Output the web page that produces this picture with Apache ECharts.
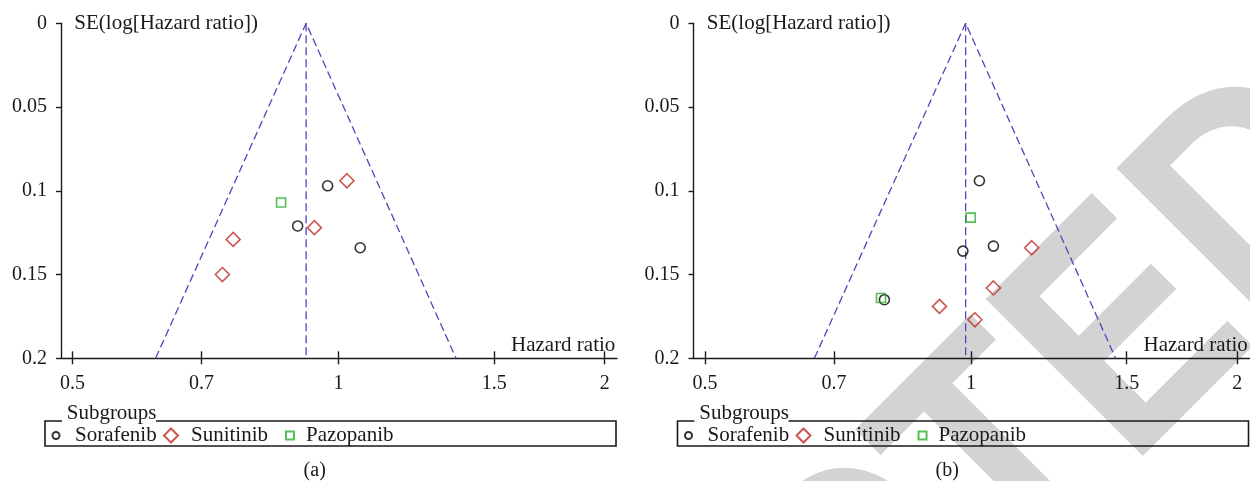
<!DOCTYPE html>
<html>
<head>
<meta charset="utf-8">
<title>Funnel plots</title>
<script src="https://cdn.jsdelivr.net/npm/echarts@6.0.0/dist/echarts.min.js"></script>
<style>
  html, body { margin: 0; padding: 0; background: #fff; }
  #chart { width: 1250px; height: 481px; }
</style>
</head>
<body>
<div id="chart"></div>
<script>
// hazard ratio / SE(log HR) pairs
const hrTicks = [0.5, 0.7, 1, 1.5, 2];
const hrMin = 0.4854;
const hrMax = 2.065;
const seMin = 0;
const seMax = 0.2;
const seStep = 0.05;

const sorafenibA = [[0.899, 0.121], [0.972, 0.097], [1.058, 0.134]];
const sunitinibA = [[0.939, 0.122], [1.022, 0.094], [0.760, 0.129], [0.739, 0.150]];
const pazopanibA = [[0.861, 0.107]];
const funnelA = [[0.621, 0.2], [0.919, 0], [1.358, 0.2]];
const pooledA = [[0.919, 0], [0.919, 0.2]];

const sorafenibB = [[1.022, 0.094], [0.979, 0.136], [1.060, 0.133], [0.798, 0.165]];
const sunitinibB = [[1.171, 0.134], [1.060, 0.158], [0.921, 0.169], [1.010, 0.177]];
const pazopanibB = [[0.999, 0.116], [0.791, 0.164]];
const funnelB = [[0.665, 0.2], [0.986, 0], [1.457, 0.2]];
const pooledB = [[0.986, 0], [0.986, 0.2]];

const groups = ['Sorafenib', 'Sunitinib', 'Pazopanib'];

const serif = 'Liberation Serif';
const ink = '#1a1a1a';
const funnelColor = '#4d47bb';

// x is drawn on a log scale: the axis works in ln(HR)
const toLog = pts => pts.map(p => [Math.log(p[0]), p[1]]);
const logTicks = hrTicks.map(v => Math.log(v));

function xAxisFor(gridIndex, main) {
  return {
    type: 'value',
    gridIndex: gridIndex,
    position: 'bottom',
    min: Math.log(hrMin),
    max: Math.log(hrMax),
    axisLine: { show: main, onZero: false, lineStyle: { color: ink, width: 1.4 } },
    axisTick: {
      show: true, inside: main, length: main ? 7 : 6,
      customValues: logTicks,
      lineStyle: { color: ink, width: 1.4 }
    },
    axisLabel: {
      show: main,
      customValues: logTicks,
      margin: 15,
      fontFamily: serif, fontSize: 20, color: ink,
      formatter: v => String(parseFloat(Math.exp(v).toFixed(2)))
    },
    splitLine: { show: false }
  };
}

function yAxisFor(gridIndex) {
  return {
    type: 'value',
    gridIndex: gridIndex,
    inverse: true,
    min: seMin,
    max: seMax,
    interval: seStep,
    axisLine: { show: true, onZero: false, lineStyle: { color: ink, width: 1.4 } },
    axisTick: { show: true, length: 5, lineStyle: { color: ink, width: 1.4 } },
    axisLabel: { margin: 14, fontFamily: serif, fontSize: 20, color: ink },
    splitLine: { show: false }
  };
}

const markers = {
  Sorafenib: { symbol: 'circle', size: 10, color: '#000000' },
  Sunitinib: { symbol: 'diamond', size: 14, color: '#bf2a22' },
  Pazopanib: { symbol: 'rect', size: 9, color: '#2cae2c' }
};

function scatterFor(name, data, xi, yi) {
  const m = markers[name];
  return {
    name: name,
    type: 'scatter',
    xAxisIndex: xi,
    yAxisIndex: yi,
    symbol: m.symbol,
    symbolSize: m.size,
    itemStyle: { color: 'transparent', borderColor: m.color, borderWidth: 1.6 },
    data: toLog(data),
    z: 5
  };
}

function dashedFor(name, data, xi, yi) {
  return {
    name: name,
    type: 'line',
    xAxisIndex: xi,
    yAxisIndex: yi,
    symbol: 'none',
    silent: true,
    lineStyle: { color: funnelColor, width: 1.3, type: [8, 4] },
    data: toLog(data),
    z: 3
  };
}

// one legend per key so the spacing follows the original
const legendIcons = { Sorafenib: 7, Sunitinib: 14, Pazopanib: 8 };
const legendCenters = { Sorafenib: 55, Sunitinib: 170, Pazopanib: 289 };
const legendText = { Sorafenib: 74, Sunitinib: 190, Pazopanib: 305 };
const panelShift = 632.5;

function legendsFor(shift) {
  return groups.map(name => {
    const s = legendIcons[name];
    const left = legendCenters[name] - s / 2;
    return {
      data: [name],
      left: left + shift,
      top: 425,
      padding: 0,
      itemWidth: s,
      itemHeight: s,
      selectedMode: false,
      textStyle: {
        fontFamily: serif, fontSize: 21, color: ink,
        padding: [0, 0, 0, legendText[name] - (left + s + 5)]
      }
    };
  });
}

function panelGraphics(shift, tag) {
  const font = '21px "' + serif + '"';
  return [
    { type: 'text', x: 74.3 + shift, y: 23.5,
      style: { text: 'SE(log[Hazard ratio])', font: font, fill: ink, textVerticalAlign: 'middle' } },
    { type: 'text', x: 511 + shift, y: 345,
      style: { text: 'Hazard ratio', font: font, fill: ink, textVerticalAlign: 'middle' } },
    { type: 'text', x: 66.7 + shift, y: 413,
      style: { text: 'Subgroups', font: font, fill: ink, textVerticalAlign: 'middle' } },
    { type: 'polyline',
      shape: { points: [[156 + shift, 421], [616 + shift, 421], [616 + shift, 446], [45 + shift, 446], [45 + shift, 421], [62 + shift, 421]] },
      style: { stroke: ink, lineWidth: 1.6, fill: null } },
    { type: 'text', x: 314.7 + shift, y: 471,
      style: { text: tag, font: '20px "' + serif + '"', fill: ink, textAlign: 'center', textVerticalAlign: 'middle' } }
  ];
}

const chart = echarts.init(document.getElementById('chart'), null, { renderer: 'canvas' });

chart.setOption({
  animation: false,
  backgroundColor: '#ffffff',
  grid: [
    { left: 61, top: 23.3, width: 556, height: 335, containLabel: false, outerBoundsMode: 'none' },
    { left: 61 + panelShift, top: 23.3, width: 556, height: 335, containLabel: false, outerBoundsMode: 'none' }
  ],
  xAxis: [xAxisFor(0, true), xAxisFor(0, false), xAxisFor(1, true), xAxisFor(1, false)],
  yAxis: [yAxisFor(0), yAxisFor(1)],
  legend: legendsFor(0).concat(legendsFor(panelShift)),
  graphic: [
    // retraction stamp behind panel (b)
    { type: 'text', x: 1339, y: 134, rotation: Math.PI / 4, scaleX: 0.858, z: -100, silent: true,
      style: { text: 'RETRACTED', font: 'bold 323px "Liberation Sans"', fill: '#d3d3d3', textAlign: 'right', textVerticalAlign: 'middle' } }
  ].concat(panelGraphics(0, '(a)'), panelGraphics(panelShift, '(b)')),
  series: [
    dashedFor('funnel a', funnelA, 0, 0),
    dashedFor('pooled a', pooledA, 0, 0),
    scatterFor('Sorafenib', sorafenibA, 0, 0),
    scatterFor('Sunitinib', sunitinibA, 0, 0),
    scatterFor('Pazopanib', pazopanibA, 0, 0),
    dashedFor('funnel b', funnelB, 2, 1),
    dashedFor('pooled b', pooledB, 2, 1),
    scatterFor('Sorafenib', sorafenibB, 2, 1),
    scatterFor('Sunitinib', sunitinibB, 2, 1),
    scatterFor('Pazopanib', pazopanibB, 2, 1)
  ]
});
</script>
</body>
</html>
